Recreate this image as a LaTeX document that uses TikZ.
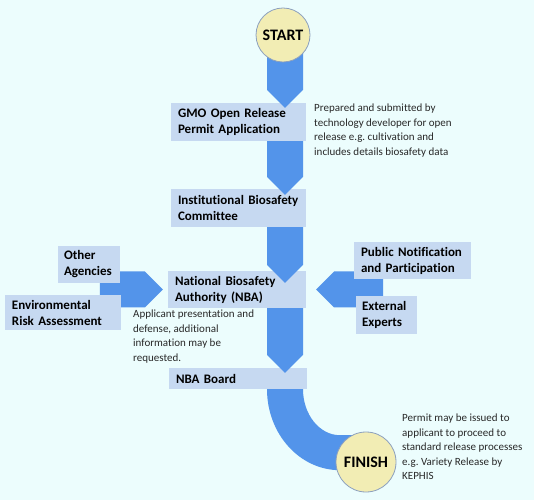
\documentclass[tikz,border=0pt]{standalone}
\usepackage{fontspec}
\setmainfont{Carlito}[Ligatures=NoCommon]
\usepackage{tikz}
\usetikzlibrary{calc}
\frenchspacing

\definecolor{bgcyan}{RGB}{236,253,253}
\definecolor{boxblue}{RGB}{198,217,241}
\definecolor{flowblue}{RGB}{83,148,234}
\definecolor{termfill}{RGB}{242,237,180}
\definecolor{termline}{RGB}{140,160,190}
\definecolor{notegray}{RGB}{40,40,40}

% block arrows: tail point, tip point
\newcommand{\flowdown}[2]{\fill[flow] let \p1=(#1), \p2=(#2) in
    (\x1-18pt,\y1) -- (\x1+18pt,\y1) -- (\x1+18pt,\y2+18pt) -- (\x2,\y2) -- (\x1-18pt,\y2+18pt) -- cycle;}
\newcommand{\flowright}[2]{\fill[flow] let \p1=(#1), \p2=(#2) in
    (\x1,\y1+18pt) -- (\x2-18pt,\y1+18pt) -- (\x2,\y2) -- (\x2-18pt,\y1-18pt) -- (\x1,\y1-18pt) -- cycle;}
\newcommand{\flowleft}[2]{\fill[flow] let \p1=(#1), \p2=(#2) in
    (\x1,\y1+18pt) -- (\x2+18pt,\y1+18pt) -- (\x2,\y2) -- (\x2+18pt,\y1-18pt) -- (\x1,\y1-18pt) -- cycle;}

\begin{document}
\begin{tikzpicture}[x=1pt, y=1pt,
    stage/.style={fill=boxblue, font=\bfseries\fontsize{13}{16}\selectfont, align=left, inner xsep=7pt, inner ysep=0pt},
    terminal/.style={circle, draw=termline, fill=termfill, line width=0.8pt, font=\bfseries\fontsize{16}{19}\selectfont, inner sep=0pt},
    note/.style={anchor=north west, align=left, inner sep=0pt, text=notegray, font=\fontsize{11}{14.5}\selectfont},
    flow/.style={fill=flowblue}]

    \fill[bgcyan] (0,0) rectangle (534,500);
    \useasboundingbox (0,0) rectangle (534,500);

    \coordinate (col) at (285,0);
    \coordinate (top) at (283,465);

    % main column
    \node[stage, text width=121pt, minimum height=38pt] (gmo)   at (238.5,378)   {GMO Open Release\\Permit Application};
    \node[stage, text width=121pt, minimum height=38pt] (ibc)   at (238.5,292)   {Institutional Biosafety\\Committee};
    \node[stage, text width=124pt, minimum height=37pt] (nba)   at (237,210.5)   {National Biosafety\\Authority (NBA)};
    \node[stage, text width=124pt, minimum height=21pt] (board) at (238,121.5)   {NBA Board};

    \flowdown{top -| col}{$(gmo.north -| col)+(0,-5)$}
    \flowdown{gmo.south -| col}{$(ibc.north -| col)+(0,-6)$}
    \flowdown{ibc.south -| col}{$(nba.north -| col)+(0,-12)$}
    \flowdown{nba.south -| col}{$(board.north -| col)+(0,-5)$}
    \fill[flow] ($(board.south -| col)+(-18,0)$) arc[start angle=180, end angle=270, x radius=73, y radius=81]
        -- ++(15,0) -- ++(0,35) -- ++(-15,0)
        arc[start angle=270, end angle=180, x radius=37, y radius=46] -- cycle;

    % side inputs
    \flowright{$(nba.west)+(-68,0)$}{$(nba.west)+(-5,0)$}
    \flowleft{$(nba.east)+(77,0)$}{$(nba.east)+(10,0)$}

    \node[stage, inner xsep=6pt, text width=50pt, minimum height=37pt]  (other)    at (89,235.5)  {Other\\Agencies};
    \node[stage, text width=102pt, minimum height=35pt]                 (env)      at (63,187.5)  {Environmental\\Risk Assessment};
    \node[stage, text width=103pt, minimum height=37pt]                 (public)   at (412.5,239.5) {Public Notification\\and Participation};
    \node[stage, inner xsep=6pt, text width=49pt, minimum height=38pt]  (external) at (386.5,185)  {External\\Experts};

    % start and finish
    \node[terminal, minimum size=54pt] (start)  at (top)     {START};
    \node[terminal, minimum size=60pt] (finish) at (366,38)  {FINISH};

    % notes
    \node[note] (prepared)  at (314,396) {Prepared and submitted by\\technology developer for open\\release e.g. cultivation and\\includes details biosafety data};
    \node[note] (applicant) at (133,190) {Applicant presentation and\\defense, additional\\information may be\\requested.};
    \node[note] (permit)    at (402,86)  {Permit may be issued to\\applicant to proceed to\\standard release processes\\e.g. Variety Release by\\KEPHIS};
\end{tikzpicture}
\end{document}
